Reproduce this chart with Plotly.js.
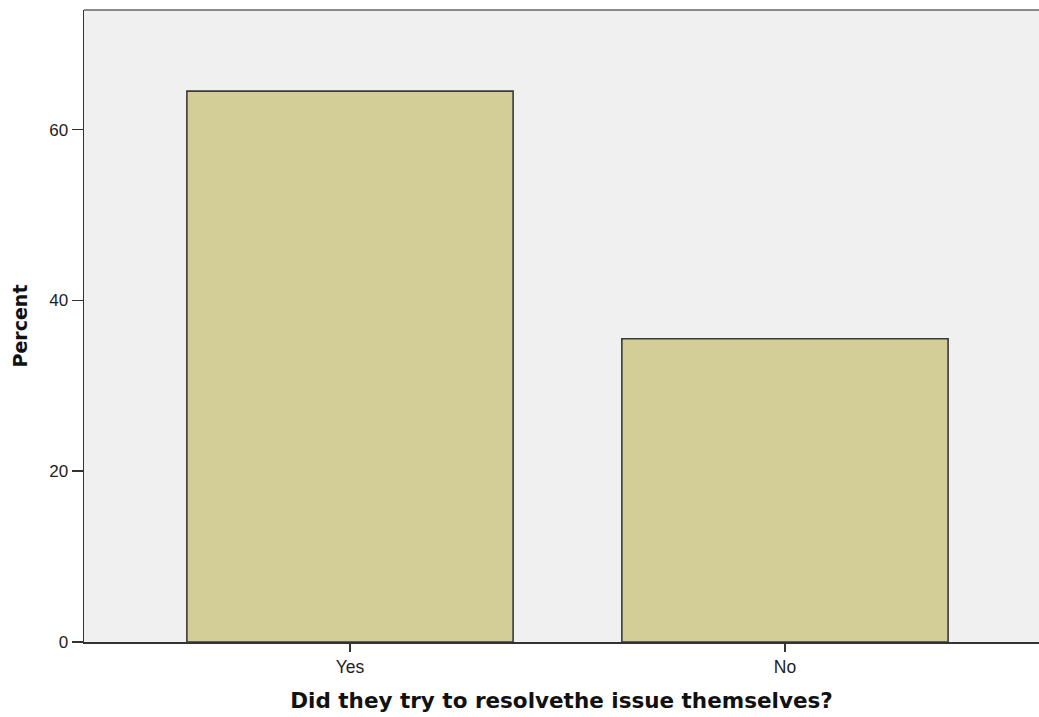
<!DOCTYPE html>
<html>
<head>
<meta charset="utf-8">
<script src="https://cdn.plot.ly/plotly-3.0.1.min.js"></script>
<style>html,body{margin:0;padding:0;background:#fff;}#chart{width:1039px;height:717px;}</style>
</head>
<body>
<div id="chart"></div>
<script>
const categories = ["Yes", "No"];
const percentValues = [64.5, 35.5];
const yTickValues = [0, 20, 40, 60];
const yTickLabels = ["0", "20", "40", "60"];

const trace = {
  type: "bar",
  x: categories,
  y: percentValues,
  width: 0.75,
  marker: { color: "#d3ce97", line: { color: "#3a3a3a", width: 1.6 } },
  hoverinfo: "x+y"
};

const layout = {
  width: 1039,
  height: 717,
  margin: { l: 84, r: 0, t: 10, b: 75, pad: 0 },
  paper_bgcolor: "#ffffff",
  plot_bgcolor: "#f0f0f0",
  showlegend: false,
  font: { family: "Liberation Sans, Arial, sans-serif", size: 17, color: "#222" },
  xaxis: {
    type: "category",
    range: [-0.6115, 1.584],
    showgrid: false,
    zeroline: false,
    showline: true,
    linecolor: "#333",
    linewidth: 1.5,
    ticks: "outside",
    ticklen: 8,
    tickcolor: "#333",
    tickwidth: 1.5,
    tickfont: { family: "Liberation Sans, Arial, sans-serif", size: 17.5, color: "#222" },
    title: { text: "Did they try to resolvethe issue themselves?", font: { size: 21.5, color: "#111", family: "DejaVu Sans, sans-serif", weight: "bold" }, standoff: 17 }
  },
  yaxis: {
    range: [0, 74],
    tickvals: yTickValues,
    ticktext: yTickLabels,
    showgrid: false,
    zeroline: false,
    showline: true,
    linecolor: "#333",
    linewidth: 1.5,
    ticks: "outside",
    ticklen: 11,
    tickcolor: "#333",
    tickwidth: 1.5,
    tickfont: { family: "Liberation Sans, Arial, sans-serif", size: 17, color: "#222" },
    title: { text: "Percent", font: { size: 19, color: "#111", family: "DejaVu Sans, sans-serif", weight: "bold" }, standoff: 16 }
  },
  shapes: [
    { type: "line", xref: "paper", yref: "paper", x0: 0, x1: 1, y0: 1, y1: 1, line: { color: "#8a8a8a", width: 2 } }
  ]
};

Plotly.newPlot("chart", [trace], layout, { displayModeBar: false, staticPlot: true });
</script>
</body>
</html>
